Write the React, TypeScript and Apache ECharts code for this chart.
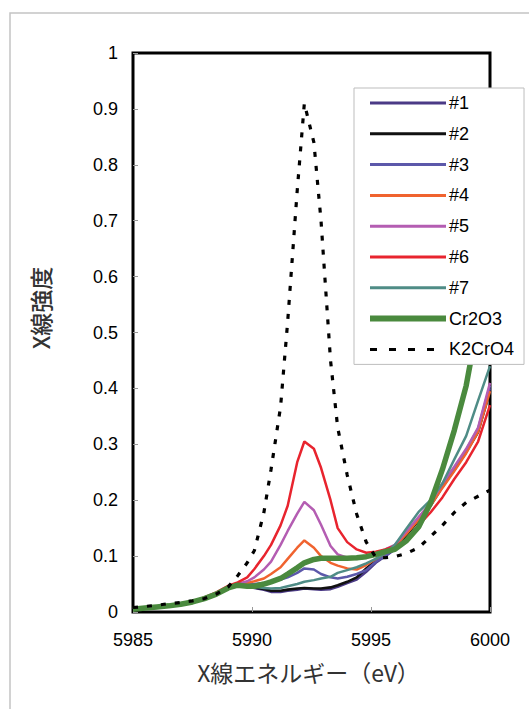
import React, { useEffect, useRef } from "react";
import * as echarts from "echarts";

const energies = [
  5985, 5985.5, 5986, 5986.5, 5987, 5987.5, 5988, 5988.5, 5989, 5989.4, 5989.8,
  5990.1, 5990.5, 5990.8, 5991.2, 5991.5, 5991.9, 5992.2, 5992.6, 5992.9, 5993.3,
  5993.6, 5994.0, 5994.4, 5994.8, 5995.2, 5995.6, 5996.0, 5996.5, 5997.0, 5997.5,
  5998.0, 5998.5, 5999.0, 5999.5, 6000,
];

const s1 = [0.008, 0.007, 0.008, 0.010, 0.013, 0.017, 0.023, 0.031, 0.042, 0.047, 0.046,
  0.043, 0.040, 0.036, 0.036, 0.038, 0.040, 0.042, 0.041, 0.040, 0.041,
  0.045, 0.052, 0.058, 0.072, 0.088, 0.100, 0.112, 0.140, 0.166, 0.192,
  0.226, 0.256, 0.288, 0.325, 0.400];
const s2 = [0.005, 0.006, 0.008, 0.010, 0.013, 0.017, 0.023, 0.031, 0.042, 0.047, 0.046,
  0.044, 0.041, 0.038, 0.038, 0.040, 0.042, 0.043, 0.042, 0.042, 0.044,
  0.048, 0.054, 0.062, 0.078, 0.092, 0.103, 0.113, 0.138, 0.164, 0.190,
  0.224, 0.254, 0.286, 0.322, 0.395];
const s3 = [0.005, 0.007, 0.009, 0.011, 0.014, 0.018, 0.024, 0.032, 0.043, 0.048, 0.049,
  0.050, 0.052, 0.054, 0.058, 0.062, 0.070, 0.078, 0.076, 0.068, 0.062,
  0.060, 0.063, 0.068, 0.075, 0.090, 0.100, 0.115, 0.143, 0.168, 0.193,
  0.228, 0.258, 0.290, 0.328, 0.405];
const s4 = [0.005, 0.007, 0.009, 0.011, 0.014, 0.018, 0.024, 0.032, 0.044, 0.049, 0.052,
  0.055, 0.060, 0.068, 0.080, 0.095, 0.115, 0.128, 0.115, 0.100, 0.088,
  0.083, 0.078, 0.076, 0.084, 0.095, 0.105, 0.118, 0.140, 0.165, 0.190,
  0.222, 0.252, 0.284, 0.322, 0.395];
const s5 = [0.005, 0.007, 0.009, 0.011, 0.014, 0.018, 0.024, 0.033, 0.045, 0.050, 0.055,
  0.062, 0.076, 0.090, 0.120, 0.145, 0.176, 0.197, 0.182, 0.156, 0.118,
  0.103, 0.097, 0.095, 0.098, 0.105, 0.112, 0.120, 0.145, 0.170, 0.195,
  0.230, 0.260, 0.292, 0.330, 0.410];
const s6 = [0.006, 0.008, 0.010, 0.012, 0.015, 0.019, 0.026, 0.035, 0.047, 0.053, 0.062,
  0.077, 0.100, 0.120, 0.155, 0.190, 0.268, 0.305, 0.292, 0.258, 0.200,
  0.150, 0.125, 0.112, 0.106, 0.108, 0.112, 0.118, 0.129, 0.155, 0.178,
  0.205, 0.238, 0.268, 0.305, 0.370];
const s7 = [0.005, 0.007, 0.009, 0.011, 0.014, 0.018, 0.024, 0.032, 0.043, 0.048, 0.046,
  0.045, 0.043, 0.042, 0.043, 0.046, 0.050, 0.054, 0.057, 0.060, 0.063,
  0.070, 0.075, 0.080, 0.087, 0.095, 0.105, 0.120, 0.150, 0.179, 0.200,
  0.230, 0.273, 0.315, 0.378, 0.440];
const cr2o3 = [0.005, 0.007, 0.009, 0.011, 0.014, 0.018, 0.024, 0.032, 0.043, 0.048, 0.046,
  0.046, 0.050, 0.054, 0.060, 0.068, 0.079, 0.088, 0.094, 0.096, 0.096,
  0.096, 0.096, 0.097, 0.099, 0.103, 0.108, 0.112, 0.128, 0.152, 0.195,
  0.255, 0.325, 0.405, 0.520, 0.620];
const k2cro4 = [0.008, 0.010, 0.012, 0.015, 0.017, 0.020, 0.024, 0.032, 0.045, 0.065, 0.088,
  0.110, 0.178, 0.255, 0.367, 0.520, 0.754, 0.910, 0.840, 0.700, 0.450,
  0.330, 0.245, 0.175, 0.125, 0.098, 0.097, 0.099, 0.105, 0.115, 0.135,
  0.155, 0.178, 0.196, 0.207, 0.218];

const seriesNames = ["#1", "#2", "#3", "#4", "#5", "#6", "#7", "Cr2O3", "K2CrO4"];
const seriesValues = [s1, s2, s3, s4, s5, s6, s7, cr2o3, k2cro4];
const seriesColors = ["#4b3a86", "#111111", "#5c58aa", "#f0632f", "#b45db2", "#e8242e", "#4f8c86", "#4a8a3e", "#000000"];
const seriesWidths = [2.6, 2.6, 2.5, 2.5, 2.5, 2.5, 2.5, 5.5, 3.2];
const legendWidths = [3, 3, 3, 3, 3, 3, 3, 6, 3];

const xTitle = "X線エネルギー（eV）";
const yTitle = "X線強度";

export default function App() {
  const ref = useRef<HTMLDivElement>(null);
  useEffect(() => {
    if (!ref.current) return;
    const chart = echarts.init(ref.current, undefined, { renderer: "svg" });
    const numFont = "'Liberation Sans', Arial, sans-serif";
    const jpFont = "'Noto Sans CJK JP', sans-serif";
    const dash = [5, 9];
    chart.setOption({
      animation: false,
      backgroundColor: "#ffffff",
      graphic: [
        {
          type: "rect",
          z: -10,
          shape: { x: 10, y: 13, width: 700, height: 900 },
          style: { fill: "none", stroke: "#c4c4c4", lineWidth: 1.5 },
        },
        {
          type: "text",
          x: 40,
          y: 308,
          rotation: Math.PI / 2,
          style: {
            text: yTitle,
            fontSize: 23,
            fontWeight: 500,
            fill: "#333333",
            fontFamily: jpFont,
            textAlign: "center",
            textVerticalAlign: "middle",
          },
        },
      ],
      grid: {
        left: 133,
        top: 53,
        width: 357,
        height: 559,
        show: true,
        borderColor: "#000",
        borderWidth: 3,
        backgroundColor: "transparent",
      },
      legend: {
        orient: "vertical",
        left: 354,
        top: 88,
        data: seriesNames.map((name, k) => ({
          name,
          lineStyle: {
            color: seriesColors[k],
            width: legendWidths[k],
            type: name === "K2CrO4" ? [7, 12] : "solid",
            cap: "butt",
          },
        })),
        backgroundColor: "#fff",
        borderColor: "#bdbdbd",
        borderWidth: 1,
        padding: [6, 10, 6, 13],
        itemWidth: 76,
        itemHeight: 18,
        itemGap: 12.8,
        itemStyle: { opacity: 0 },
        textStyle: { fontSize: 18, color: "#000", fontFamily: numFont, padding: [0, 0, 0, -2] },
        z: 10,
      },
      xAxis: {
        type: "value",
        min: 5985,
        max: 6000,
        interval: 5,
        name: xTitle,
        nameLocation: "middle",
        nameGap: 48,
        nameTextStyle: { fontSize: 23, color: "#333333", fontFamily: jpFont, padding: [0, 0, 0, -6] },
        axisLine: { show: false },
        axisTick: { show: true, inside: true, length: 5, lineStyle: { color: "#999", width: 1 } },
        axisLabel: {
          fontSize: 18,
          color: "#000",
          fontFamily: numFont,
          margin: 19,
          formatter: (v: number) => String(v),
        },
        splitLine: { show: false },
      },
      yAxis: {
        type: "value",
        min: 0,
        max: 1,
        interval: 0.1,
        axisLine: { show: false },
        axisTick: { show: true, inside: true, length: 5, lineStyle: { color: "#999", width: 1 } },
        axisLabel: { fontSize: 18, color: "#000", fontFamily: numFont, margin: 15 },
        splitLine: { show: false },
      },
      series: seriesNames.map((name, k) => ({
        name,
        type: "line",
        symbol: "none",
        showSymbol: false,
        clip: true,
        data: energies.map((e, i) => [e, seriesValues[k][i]]),
        itemStyle: { color: seriesColors[k] },
        lineStyle: {
          color: seriesColors[k],
          width: seriesWidths[k],
          type: name === "K2CrO4" ? dash : "solid",
          cap: "butt",
        },
      })),
    });
    return () => chart.dispose();
  }, []);
  return (
    <div
      ref={ref}
      style={{ position: "fixed", left: 0, top: 0, width: 529, height: 709, background: "#fff" }}
    />
  );
}
